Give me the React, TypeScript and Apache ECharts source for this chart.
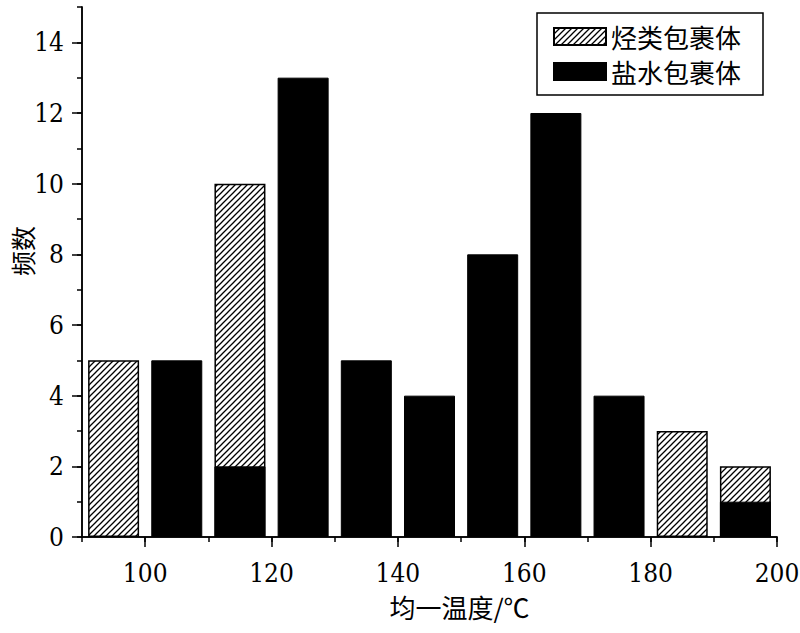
import React, { useEffect, useRef } from "react";
import * as echarts from "echarts";

const binCenters = [95, 105, 115, 125, 135, 145, 155, 165, 175, 185, 195];
const brineCounts = [0, 5, 2, 13, 5, 4, 8, 12, 4, 0, 1];
const hydrocarbonCounts = [5, 0, 8, 0, 0, 0, 0, 0, 0, 3, 1];
const xMajorTicks = [100, 120, 140, 160, 180, 200];
const yMajorTicks = [0, 2, 4, 6, 8, 10, 12, 14];

const NUM_FONT = "DejaVu Serif Condensed, DejaVu Serif";
const CJK_FONT = "Noto Sans CJK SC";

function makeHatch(): string {
  const s = 6;
  const c = document.createElement("canvas");
  c.width = s;
  c.height = s;
  const ctx = c.getContext("2d")!;
  ctx.fillStyle = "#fff";
  ctx.fillRect(0, 0, s, s);
  ctx.strokeStyle = "#000";
  ctx.lineWidth = 1.3;
  ctx.beginPath();
  ctx.moveTo(0, s);
  ctx.lineTo(s, 0);
  ctx.moveTo(-1, 1);
  ctx.lineTo(1, -1);
  ctx.moveTo(s - 1, s + 1);
  ctx.lineTo(s + 1, s - 1);
  ctx.stroke();
  return c.toDataURL();
}

export default function App() {
  const ref = useRef<HTMLDivElement>(null);
  useEffect(() => {
    if (!ref.current) return;
    const chart = echarts.init(ref.current, null, { renderer: "svg" });
    const hatch = { image: makeHatch(), repeat: "repeat" };
    const totals = binCenters.map((x, i) => [x, brineCounts[i] + hydrocarbonCounts[i]]);
    const hatchData = totals.map((d, i) => (hydrocarbonCounts[i] > 0 ? d : [d[0], "-"]));
    const brineData = binCenters.map((x, i) => [x, brineCounts[i] > 0 ? brineCounts[i] : "-"]);
    const axisLine = { show: true, lineStyle: { color: "#000", width: 1.5 } };
    const tickStyle = { color: "#000", width: 1.5 };
    chart.setOption({
      animation: false,
      backgroundColor: "#fff",
      grid: { left: 82, right: 23, top: 7, bottom: 96, containLabel: false, outerBoundsMode: "none" },
      legend: {
        orient: "vertical",
        left: 537,
        top: 13,
        data: ["烃类包裹体", "盐水包裹体"],
        itemWidth: 52,
        itemHeight: 17,
        itemGap: 8,
        padding: [10, 22, 10, 16],
        borderColor: "#000",
        borderWidth: 1.5,
        borderRadius: 0,
        icon: "rect",
        textStyle: { fontFamily: CJK_FONT, fontSize: 26, lineHeight: 27, color: "#000" },
      },
      xAxis: [
        {
          type: "value",
          min: 90,
          max: 200,
          interval: 10,
          name: "均一温度/℃",
          nameLocation: "middle",
          nameGap: 56,
          nameMoveOverlap: false,
          nameTextStyle: { fontFamily: CJK_FONT, fontSize: 26, color: "#000", padding: [0, 0, 0, 60] },
          axisLine,
          axisTick: { show: true, length: 5, lineStyle: tickStyle },
          axisLabel: {
            fontFamily: NUM_FONT,
            fontSize: 26,
            color: "#000",
            margin: 23,
            formatter: (v: number) => (xMajorTicks.includes(v) ? String(v) : ""),
          },
          splitLine: { show: false },
        },
        {
          type: "value",
          min: 90,
          max: 200,
          position: "bottom",
          axisLine,
          axisTick: { show: true, length: 10, lineStyle: tickStyle, customValues: xMajorTicks },
          axisLabel: { show: false },
          splitLine: { show: false },
        },
      ],
      yAxis: [
        {
          type: "value",
          min: 0,
          max: 15,
          interval: 1,
          name: "频数",
          nameLocation: "middle",
          nameGap: 48,
          nameMoveOverlap: false,
          nameTextStyle: { fontFamily: CJK_FONT, fontSize: 25, color: "#000", padding: [0, 0, 0, 42] },
          axisLine,
          axisTick: { show: true, length: 5, lineStyle: tickStyle },
          axisLabel: {
            fontFamily: NUM_FONT,
            fontSize: 26,
            color: "#000",
            margin: 18,
            formatter: (v: number) => (yMajorTicks.includes(v) ? String(v) : ""),
          },
          splitLine: { show: false },
        },
        {
          type: "value",
          min: 0,
          max: 15,
          position: "left",
          axisLine,
          axisTick: { show: true, length: 10, lineStyle: tickStyle, customValues: yMajorTicks },
          axisLabel: { show: false },
          splitLine: { show: false },
        },
      ],
      series: [
        {
          name: "烃类包裹体",
          type: "bar",
          xAxisIndex: 0,
          yAxisIndex: 0,
          barWidth: 51,
          barGap: "-100%",
          data: hatchData,
          itemStyle: { color: hatch, borderColor: "#000", borderWidth: 1.5 },
        },
        {
          name: "盐水包裹体",
          type: "bar",
          xAxisIndex: 0,
          yAxisIndex: 0,
          barWidth: 51,
          barGap: "-100%",
          data: brineData,
          itemStyle: { color: "#000", borderColor: "#000", borderWidth: 1 },
        },
      ],
    });
    return () => chart.dispose();
  }, []);
  return (
    <div
      ref={ref}
      style={{ position: "fixed", left: 0, top: 0, width: 800, height: 633 }}
    />
  );
}
